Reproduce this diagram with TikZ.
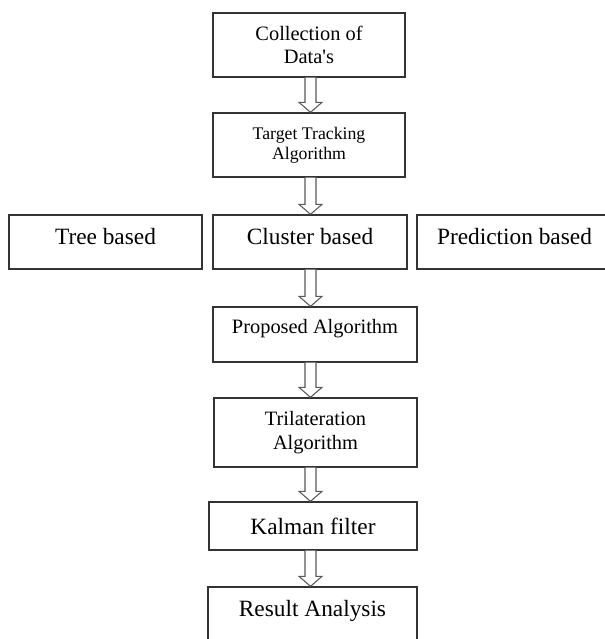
\documentclass[tikz,border=0pt]{standalone}
\usepackage{fontspec}
\setmainfont{Liberation Serif}
\usetikzlibrary{calc}
\begin{document}
\begin{tikzpicture}[x=0.75pt,y=-0.75pt,
    box/.style={draw=black!80,line width=1pt,inner sep=0pt,align=center},
    hollow/.style={draw=black!65,line width=0.8pt,fill=white,line join=miter},
    mid/.style={font=\fontsize{15.3}{17.3}\selectfont},
    big/.style={font=\fontsize{17.5}{20}\selectfont}]
        \useasboundingbox (0,0) rectangle (605,639);
        \coordinate (axis) at (310.5,0);

        \node[box,mid,minimum width=144pt,minimum height=48pt] (data) at (309,45) {Collection of\\Data\textquotesingle s};
        \node[box,font=\fontsize{13.3}{15}\selectfont,minimum width=144pt,minimum height=48pt] (track) at (309,145) {Target Tracking\\Algorithm};

        \node[box,big,text height=12pt,text depth=8.5pt,minimum width=144.75pt,minimum height=40.5pt] (tree) at (105.5,242) {Tree based};
        \node[box,big,text height=12pt,text depth=8.5pt,minimum width=145.5pt,minimum height=40.5pt] (cluster) at (310,242) {Cluster based};
        \node[box,big,text height=12pt,text depth=8.5pt,minimum width=146.25pt,minimum height=40.5pt] (pred) at (514.5,242) {Prediction based};

        \node[box,mid,text height=10.5pt,text depth=11.5pt,minimum width=153pt,minimum height=41.25pt] (prop) at (315,334.5) {Proposed Algorithm};
        \node[box,font=\fontsize{15.3}{18}\selectfont,minimum width=152.25pt,minimum height=51.75pt] (tri) at (315.5,432.5) {Trilateration\\Algorithm};
        \node[box,big,minimum width=156pt,minimum height=36pt] (kal) at (313,526) {Kalman filter};
        \node[box,big,text height=12pt,text depth=11pt,minimum width=156.75pt,minimum height=43.5pt] (res) at (312.5,616) {Result Analysis};

        \foreach \a/\b in {data/track,track/cluster,cluster/prop,prop/tri,tri/kal,kal/res}
            \draw[hollow] ($(\a.south -| axis)+(-5.5,0)$)
                -- ($(\b.north -| axis)+(-5.5,-10)$) -- ($(\b.north -| axis)+(-11.5,-10)$)
                -- (\b.north -| axis)
                -- ($(\b.north -| axis)+(11.5,-10)$) -- ($(\b.north -| axis)+(5.5,-10)$)
                -- ($(\a.south -| axis)+(5.5,0)$);
\end{tikzpicture}
\end{document}
